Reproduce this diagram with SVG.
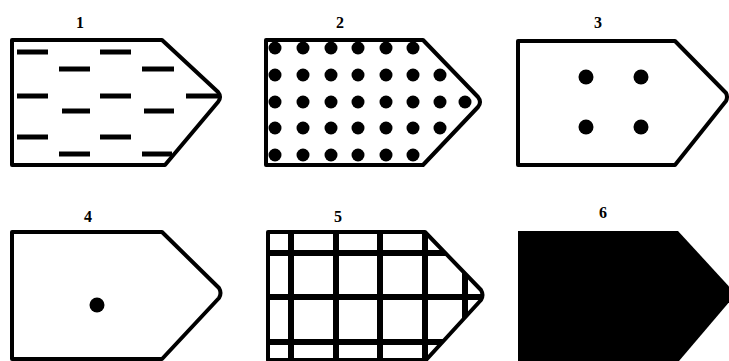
<svg xmlns="http://www.w3.org/2000/svg" width="729" height="361" viewBox="0 0 729 361">
<style>
.o{fill:#fff;stroke:#000;stroke-width:4;stroke-linejoin:round}
.d{stroke:#000;stroke-width:5}
.g{stroke:#000;stroke-width:6}
.l{font-family:"Liberation Serif",serif;font-weight:bold;font-size:16px;fill:#000;text-anchor:middle}
</style>
<defs>
<clipPath id="c5"><path d="M268,232 H425 L481,290 Q484,295 481,300 L426,360 H268 Z"/></clipPath>
</defs>
<rect width="729" height="361" fill="#fff"/>
<g id="n1">
<text class="l" x="80" y="28">1</text>
<path class="o" d="M12,40 H162 L218,92 Q222,97 218,102 L165,165 H12 Z"/>
<g class="d">
<line x1="17" y1="52" x2="48" y2="52"/><line x1="100" y1="52" x2="131" y2="52"/>
<line x1="59" y1="69" x2="90" y2="69"/><line x1="142" y1="69" x2="174" y2="69"/>
<line x1="17" y1="96" x2="48" y2="96"/><line x1="100" y1="96" x2="131" y2="96"/><line x1="186" y1="96" x2="220" y2="96"/>
<line x1="62" y1="111" x2="90" y2="111"/><line x1="144" y1="111" x2="174" y2="111"/>
<line x1="17" y1="137" x2="48" y2="137"/><line x1="100" y1="137" x2="131" y2="137"/>
<line x1="59" y1="154" x2="90" y2="154"/><line x1="142" y1="154" x2="172" y2="154"/>
</g>
</g>
<g id="n2">
<text class="l" x="340" y="28">2</text>
<path class="o" d="M266,40 H423 L478,97 Q482,102 478,107 L423,165 H266 Z"/>
<g fill="#000">
<circle cx="275" cy="48" r="6.5"/><circle cx="303" cy="48" r="6.5"/><circle cx="331" cy="48" r="6.5"/><circle cx="358" cy="48" r="6.5"/><circle cx="386" cy="48" r="6.5"/><circle cx="413" cy="48" r="6.5"/>
<circle cx="275" cy="75" r="6.5"/><circle cx="303" cy="75" r="6.5"/><circle cx="331" cy="75" r="6.5"/><circle cx="358" cy="75" r="6.5"/><circle cx="386" cy="75" r="6.5"/><circle cx="413" cy="75" r="6.5"/><circle cx="440" cy="75" r="6.5"/>
<circle cx="275" cy="102" r="6.5"/><circle cx="303" cy="102" r="6.5"/><circle cx="331" cy="102" r="6.5"/><circle cx="358" cy="102" r="6.5"/><circle cx="386" cy="102" r="6.5"/><circle cx="413" cy="102" r="6.5"/><circle cx="440" cy="102" r="6.5"/><circle cx="465" cy="102" r="6.5"/>
<circle cx="275" cy="128" r="6.5"/><circle cx="303" cy="128" r="6.5"/><circle cx="331" cy="128" r="6.5"/><circle cx="358" cy="128" r="6.5"/><circle cx="386" cy="128" r="6.5"/><circle cx="413" cy="128" r="6.5"/><circle cx="440" cy="128" r="6.5"/>
<circle cx="275" cy="155" r="6.5"/><circle cx="303" cy="155" r="6.5"/><circle cx="331" cy="155" r="6.5"/><circle cx="358" cy="155" r="6.5"/><circle cx="386" cy="155" r="6.5"/><circle cx="413" cy="155" r="6.5"/>
</g>
</g>
<g id="n3">
<text class="l" x="598" y="28">3</text>
<path class="o" d="M518,41 H675 L726,93 Q728,97 726,101 L675,165 H518 Z"/>
<g fill="#000">
<circle cx="586" cy="77" r="7.5"/><circle cx="641" cy="77" r="7.5"/>
<circle cx="586" cy="127" r="7.5"/><circle cx="641" cy="127" r="7.5"/>
</g>
</g>
<g id="n4">
<text class="l" x="88" y="222">4</text>
<path class="o" d="M12,232 H162 L219,288 Q222,293 219,298 L162,359 H12 Z"/>
<circle cx="97" cy="305" r="7.5" fill="#000"/>
</g>
<g id="n5">
<text class="l" x="338" y="222">5</text>
<path class="o" d="M268,232 H425 L481,290 Q484,295 481,300 L426,360 H268 Z"/>
<g class="g" clip-path="url(#c5)">
<line x1="291" y1="230" x2="291" y2="361"/><line x1="336" y1="230" x2="336" y2="361"/><line x1="380" y1="230" x2="380" y2="361"/><line x1="425" y1="230" x2="425" y2="361"/><line x1="465" y1="230" x2="465" y2="361"/>
<line x1="266" y1="253" x2="486" y2="253"/><line x1="266" y1="297" x2="486" y2="297"/><line x1="266" y1="342" x2="486" y2="342"/>
</g>
</g>
<g id="n6">
<text class="l" x="603" y="218">6</text>
<path d="M518,231 H678 L736,294 L679,361 H518 Z" fill="#000"/>
</g>
</svg>
